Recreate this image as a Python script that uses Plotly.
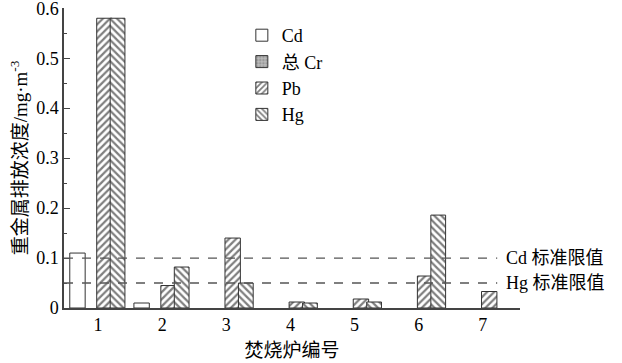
import plotly.graph_objects as go

furnaces = [1, 2, 3, 4, 5, 6, 7]
series_names = ["Cd", "总 Cr", "Pb", "Hg"]
cd = [0.11, 0.01, None, None, None, None, None]
cr = [None, None, None, None, None, None, None]
pb = [0.58, 0.045, 0.14, 0.012, 0.018, 0.064, 0.033]
hg = [0.58, 0.082, 0.05, 0.01, 0.012, 0.186, None]
limit_names = ["Cd 标准限值", "Hg 标准限值"]
limit_values = [0.1, 0.05]
y_ticks = [0, 0.1, 0.2, 0.3, 0.4, 0.5, 0.6]
y_tick_text = ["0", "0.1", "0.2", "0.3", "0.4", "0.5", "0.6"]

FONT = "Liberation Serif, Noto Sans CJK SC"
series_vals = [cd, cr, pb, hg]
styles = [
    dict(offset=-0.44, width=0.24, pattern=dict(shape=""), color="white"),
    dict(offset=-0.22, width=0.22, pattern=dict(shape=".", fgcolor="#777", bgcolor="#bbb", size=4, solidity=0.5), color="#bbb"),
    dict(offset=-0.02, width=0.24, pattern=dict(shape="/", fgcolor="black", bgcolor="white", size=5, solidity=0.45), color="white"),
    dict(offset=0.19, width=0.23, pattern=dict(shape="\\", fgcolor="black", bgcolor="white", size=5, solidity=0.45), color="white"),
]

fig = go.Figure()
for name, vals, st in zip(series_names, series_vals, styles):
    fig.add_trace(go.Bar(
        x=furnaces, y=vals, name=name,
        offset=st["offset"], width=st["width"],
        marker=dict(color=st["color"], pattern=st["pattern"],
                    line=dict(color="#333", width=1)),
    ))

for lname, lv in zip(limit_names, limit_values):
    fig.add_shape(type="line", xref="x domain", yref="y", x0=0, x1=0.95, y0=lv, y1=lv,
                  line=dict(color="#555", width=1.3, dash="dash"))
    fig.add_annotation(xref="x domain", yref="y", x=0.965, y=lv, text=lname,
                       showarrow=False, xanchor="left", yanchor="middle",
                       font=dict(family=FONT, size=18, color="black"))

fig.update_layout(
    width=622, height=363,
    margin=dict(l=64, r=102, t=8, b=55, autoexpand=False),
    barmode="overlay",
    plot_bgcolor="white", paper_bgcolor="white",
    font=dict(family=FONT, size=18, color="black"),
    showlegend=True,
    legend=dict(x=0.39, y=0.97, xanchor="left", yanchor="top",
                bgcolor="rgba(0,0,0,0)", font=dict(family=FONT, size=18, color="black"),
                itemwidth=30, tracegroupgap=0),
    xaxis=dict(range=[0.47, 7.58], tickmode="array", tickvals=furnaces,
               ticktext=[str(f) for f in furnaces], showline=True, automargin=False,
               linecolor="#444", linewidth=1.5, ticks="", showgrid=False,
               zeroline=False, tickfont=dict(family=FONT, size=18, color="black"),
               title=dict(text="焚烧炉编号", font=dict(family=FONT, size=19, color="black"), standoff=9)),
    yaxis=dict(range=[0, 0.6005], tickmode="array", tickvals=y_ticks, ticktext=y_tick_text,
               showline=True, linecolor="#444", linewidth=1.5, ticks="inside", automargin=False,
               ticklabeloverflow="allow",
               ticklen=6, tickcolor="#444", showgrid=False, zeroline=False,
               minor=dict(ticks="inside", ticklen=3, dtick=0.05, tickcolor="#444"),
               tickfont=dict(family=FONT, size=18, color="black"),
               title=dict(text="重金属排放浓度/mg·m<sup>-3</sup>",
                          font=dict(family=FONT, size=19, color="black"), standoff=4)),
)

fig.write_html("out.html")
